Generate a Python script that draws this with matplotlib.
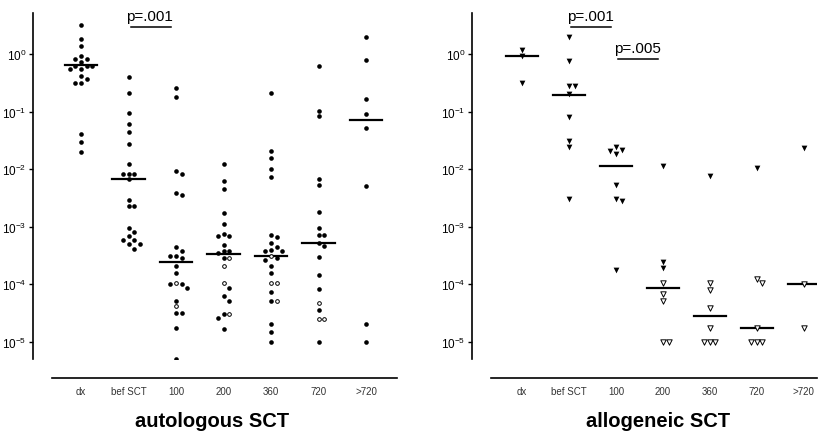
import numpy as np
import matplotlib
matplotlib.use("Agg")
import matplotlib.pyplot as plt
from matplotlib.ticker import LogLocator, NullLocator, LogFormatterSciNotation

plt.rcParams['font.family'] = ['Liberation Sans', 'DejaVu Sans']
plt.rcParams['mathtext.fontset'] = 'custom'
plt.rcParams['mathtext.rm'] = 'Liberation Sans'
plt.rcParams['mathtext.it'] = 'Liberation Sans:italic'
plt.rcParams['mathtext.bf'] = 'Liberation Sans:bold'
plt.rcParams['axes.unicode_minus'] = False

categories = ['dx', 'bef SCT', '100', '200', '360', '720', '>720']

# autologous SCT: filled = detectable, open = below quantitative range
auto_filled = [
    [3.2, 1.8, 1.38, 0.94, 0.82, 0.82, 0.72, 0.63, 0.63, 0.63, 0.56, 0.56, 0.41, 0.37, 0.31, 0.31, 0.041, 0.030, 0.020],
    [0.40, 0.21, 0.093, 0.062, 0.045, 0.027, 0.0123, 0.0083, 0.0083, 0.0083, 0.0066, 0.0029, 0.0023, 0.0023,
     0.00093, 0.00081, 0.00069, 0.00059, 0.00059, 0.00050, 0.00050, 0.00041],
    [0.26, 0.18, 0.0093, 0.0082, 0.0038, 0.0036, 0.00045, 0.00037, 0.00031, 0.00031, 0.00029, 0.00021, 0.000154,
     0.0001, 0.0001, 0.000087, 0.000051, 0.000032, 0.000032, 0.0000174, 0.000005],
    [0.0124, 0.0061, 0.0045, 0.00173, 0.00112, 0.00074, 0.00068, 0.00068, 0.00048, 0.00037, 0.00037, 0.00035,
     0.00029, 0.000087, 0.000063, 0.000052, 0.000030, 0.000026, 0.0000165],
    [0.207, 0.0205, 0.0154, 0.0099, 0.0072, 0.00073, 0.00066, 0.00051, 0.00045, 0.00040, 0.00037, 0.00037,
     0.00028, 0.00026, 0.000204, 0.000155, 0.000072, 0.000051, 0.000020, 0.0000145, 0.00001],
    [0.63, 0.103, 0.083, 0.0068, 0.0054, 0.0018, 0.00094, 0.00073, 0.00073, 0.00052, 0.00046, 0.00030,
     0.000145, 0.000081, 0.000035, 0.00001],
    [2.0, 0.80, 0.165, 0.092, 0.052, 0.005, 0.000020, 0.00001],
]
auto_open = [[], [], [0.000104, 0.000041], [0.00029, 0.00021, 0.000104, 0.000030],
             [0.00031, 0.000104, 0.000104, 0.000051], [0.000048, 0.000025, 0.000025], []]
auto_median = [0.64, 0.0067, 0.00024, 0.00033, 0.00031, 0.00052, 0.072]

# allogeneic SCT
allo_filled = [
    [1.17, 0.94, 0.32],
    [2.0, 0.77, 0.28, 0.28, 0.20, 0.079, 0.031, 0.024, 0.0030],
    [0.0245, 0.0217, 0.021, 0.018, 0.0053, 0.0030, 0.0028, 0.00018],
    [0.0114, 0.000245, 0.00019],
    [0.0076],
    [0.0103],
    [0.0232],
]
allo_open = [[], [], [], [0.000104, 0.000067, 0.000051, 0.00001, 0.00001],
             [0.000104, 0.000080, 0.000039, 0.0000174, 0.00001, 0.00001, 0.00001],
             [0.000125, 0.000104, 0.0000174, 0.00001, 0.00001, 0.00001],
             [0.0001, 0.0000174]]
allo_median = [0.91, 0.196, 0.0114, 0.000085, 0.000028, 0.000017, 0.0001]

# significance brackets: (from, to, level, label)
auto_pvals = [(1, 2, 2.95, 'p=.001')]
allo_pvals = [(1, 2, 2.95, 'p=.001'), (2, 3, 0.82, 'p=.005')]


def swarm(vals, size_px, col_px, decade_px=57.5):
    # simple beeswarm: shift colliding points sideways
    y = np.log10(vals) * decade_px
    off = np.zeros(len(y))
    placed = []
    for i in np.argsort(-y):
        for k in [0, 1, -1, 2, -2, 3, -3, 4, -4]:
            x = k * size_px
            if all(np.hypot(x - px, y[i] - py) >= size_px * 0.95 for px, py in placed):
                break
        off[i] = x
        placed.append((x, y[i]))
    return off / col_px


def panel(ax, filled, opened, medians, pvals, marker, size_f, size_o, col_px, xlim, title, title_x):
    for i in range(len(categories)):
        vals = np.array(filled[i] + opened[i])
        is_open = np.array([False] * len(filled[i]) + [True] * len(opened[i]))
        off = swarm(vals, 5.6, col_px)
        xs = i + off
        ax.scatter(xs[~is_open], vals[~is_open], s=size_f, marker=marker, color='black',
                   linewidths=0, zorder=3)
        if is_open.any():
            ax.scatter(xs[is_open], vals[is_open], s=size_o, marker=marker, facecolor='white',
                       edgecolor='black', linewidths=0.7, zorder=3)
        ax.plot([i - 0.34, i + 0.34], [medians[i], medians[i]], color='black', lw=1.6, zorder=2)

    for a, b, lev, lab in pvals:
        ax.plot([a + 0.05, b - 0.1], [lev, lev], color='black', lw=1.1, clip_on=False)
        ax.text((a + b) / 2 - 0.05, lev * 1.17, lab, ha='center', va='bottom', fontsize=11)

    ax.set_yscale('log')
    ax.set_ylim(10 ** -5.3, 10 ** 0.713)
    ax.set_xlim(*xlim)
    ax.yaxis.set_major_locator(LogLocator(base=10, numticks=10))
    ax.yaxis.set_minor_locator(NullLocator())
    ax.yaxis.set_major_formatter(LogFormatterSciNotation())
    ax.set_xticks(range(len(categories)))
    ax.set_xticklabels(categories)

    for s in ['top', 'right']:
        ax.spines[s].set_visible(False)
    ax.spines['left'].set_position(('outward', 13.7))
    ax.spines['bottom'].set_position(('outward', 13.7))
    ax.spines['left'].set_linewidth(1.2)
    ax.spines['bottom'].set_linewidth(1.2)
    ax.tick_params(axis='y', length=3, width=1, pad=1.5, labelsize=8.5)
    ax.tick_params(axis='x', length=0, pad=6, labelsize=7, labelcolor='#333333')
    fig.text(title_x, 0.032, title, ha='center', va='center', fontsize=14.5, fontweight='bold')


fig = plt.figure(figsize=(8.37, 4.35), dpi=100)
ax1 = fig.add_axes([52 / 837, 75 / 435, 345 / 837, 346 / 435])
ax2 = fig.add_axes([491 / 837, 75 / 435, 326 / 837, 346 / 435])

panel(ax1, auto_filled, auto_open, auto_median, auto_pvals, 'o', 11, 7, 47.5,
      (-0.61, 6.65), 'autologous SCT', 212 / 837)
panel(ax2, allo_filled, allo_open, allo_median, allo_pvals, 'v', 17, 15, 47.0,
      (-0.66, 6.28), 'allogeneic SCT', 658 / 837)

fig.savefig('out.png', dpi=100)
